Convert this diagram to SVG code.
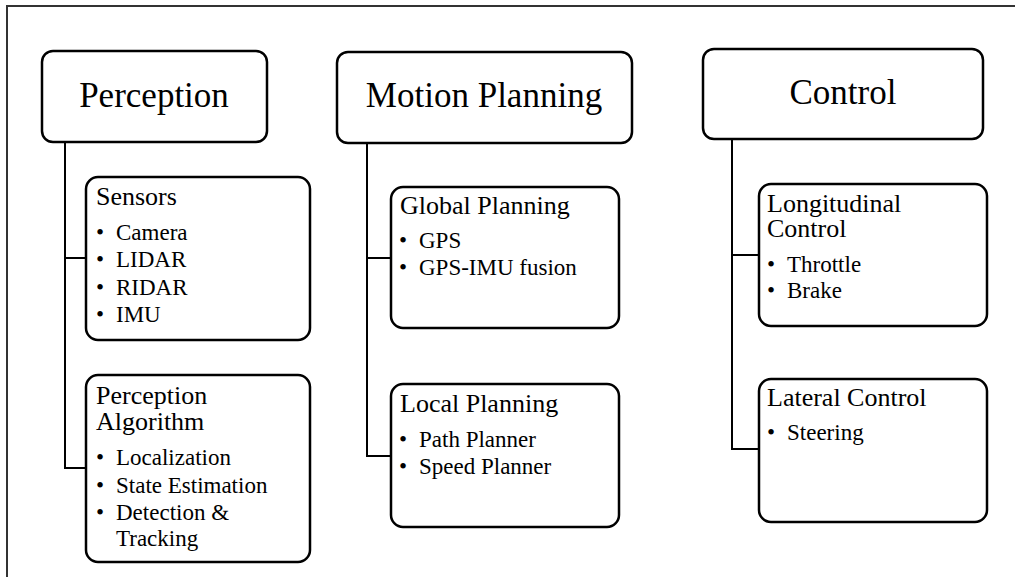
<svg xmlns="http://www.w3.org/2000/svg" width="1015" height="577" viewBox="0 0 1015 577">
  <style>
    .box { fill: #fff; stroke: #000; stroke-width: 2.5; }
    .wire { fill: none; stroke: #000; stroke-width: 2; }
    .frame { fill: none; stroke: #333; stroke-width: 2; }
    text { font-family: "Liberation Serif", "Times New Roman", serif; fill: #000; }
    .title { font-size: 35px; text-anchor: middle; }
    .head { font-size: 26px; }
    .item { font-size: 23px; }
  </style>
  <rect width="1015" height="577" fill="#fff"/>
  <!-- outer frame (top and left edges) -->
  <path class="frame" d="M7,577 V6 H1015"/>

  <!-- connectors -->
  <g id="connectors">
    <path class="wire" d="M65,142 V468 H87 M65,258 H87"/>
    <path class="wire" d="M367,143 V456 H391 M367,258 H391"/>
    <path class="wire" d="M732,139 V449 H759 M732,255 H759"/>
  </g>

  <!-- Perception column -->
  <g id="perception">
    <rect class="box" x="42" y="51" width="225" height="91" rx="11"/>
    <text class="title" x="154" y="107">Perception</text>
  </g>
  <g id="sensors">
    <rect class="box" x="86" y="177" width="224" height="163" rx="12"/>
    <text class="head" x="96" y="205">Sensors</text>
    <text class="item" x="96" y="240">•</text><text class="item" x="116" y="240">Camera</text>
    <text class="item" x="96" y="267">•</text><text class="item" x="116" y="267">LIDAR</text>
    <text class="item" x="96" y="295">•</text><text class="item" x="116" y="295">RIDAR</text>
    <text class="item" x="96" y="322">•</text><text class="item" x="116" y="322">IMU</text>
  </g>
  <g id="perception-algorithm">
    <rect class="box" x="86" y="375" width="224" height="187" rx="12"/>
    <text class="head" x="96" y="404">Perception<tspan x="96" dy="26">Algorithm</tspan></text>
    <text class="item" x="96" y="465">•</text><text class="item" x="116" y="465">Localization</text>
    <text class="item" x="96" y="493">•</text><text class="item" x="116" y="493">State Estimation</text>
    <text class="item" x="96" y="520">•</text><text class="item" x="116" y="520">Detection &amp;<tspan x="116" dy="26">Tracking</tspan></text>
  </g>

  <!-- Motion Planning column -->
  <g id="motion-planning">
    <rect class="box" x="337" y="52" width="295" height="91" rx="11"/>
    <text class="title" x="484" y="107">Motion Planning</text>
  </g>
  <g id="global-planning">
    <rect class="box" x="391" y="187" width="228" height="141" rx="12"/>
    <text class="head" x="400" y="214">Global Planning</text>
    <text class="item" x="399" y="248">•</text><text class="item" x="419" y="248">GPS</text>
    <text class="item" x="399" y="275">•</text><text class="item" x="419" y="275">GPS-IMU fusion</text>
  </g>
  <g id="local-planning">
    <rect class="box" x="391" y="384" width="228" height="143" rx="12"/>
    <text class="head" x="400" y="412">Local Planning</text>
    <text class="item" x="399" y="447">•</text><text class="item" x="419" y="447">Path Planner</text>
    <text class="item" x="399" y="474">•</text><text class="item" x="419" y="474">Speed Planner</text>
  </g>

  <!-- Control column -->
  <g id="control">
    <rect class="box" x="703" y="49" width="280" height="90" rx="11"/>
    <text class="title" x="843" y="104">Control</text>
  </g>
  <g id="longitudinal-control">
    <rect class="box" x="759" y="184" width="228" height="142" rx="12"/>
    <text class="head" x="767" y="212">Longitudinal<tspan x="767" dy="25">Control</tspan></text>
    <text class="item" x="767" y="272">•</text><text class="item" x="787" y="272">Throttle</text>
    <text class="item" x="767" y="298">•</text><text class="item" x="787" y="298">Brake</text>
  </g>
  <g id="lateral-control">
    <rect class="box" x="759" y="379" width="228" height="143" rx="12"/>
    <text class="head" x="767" y="406">Lateral Control</text>
    <text class="item" x="767" y="440">•</text><text class="item" x="787" y="440">Steering</text>
  </g>
</svg>
